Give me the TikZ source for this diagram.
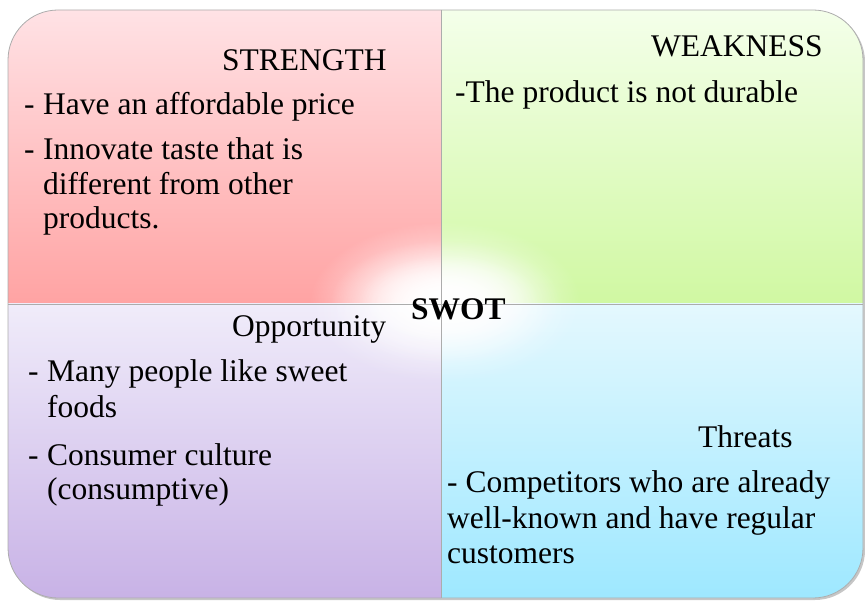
\documentclass[tikz,border=0pt]{standalone}
\usepackage{fontspec}
\setmainfont{Liberation Serif}
\usetikzlibrary{shadows,fadings}

\definecolor{strtop}{RGB}{255,226,229}
\definecolor{strbot}{RGB}{255,163,163}
\definecolor{weatop}{RGB}{244,255,234}
\definecolor{weabot}{RGB}{208,248,162}
\definecolor{opptop}{RGB}{240,236,250}
\definecolor{oppbot}{RGB}{200,178,230}
\definecolor{thrtop}{RGB}{228,248,254}
\definecolor{thrbot}{RGB}{158,232,255}

\tikzfading[name=glowfade, inner color=transparent!0, outer color=transparent!100]

\tikzset{
	txt/.style={anchor=base west, inner sep=0pt, font=\fontsize{31.5}{35}\selectfont},
	title/.style={txt, font=\fontsize{31.5}{35}\selectfont\bfseries},
	frame/.style={draw=gray!65, line width=0.8pt}
}

\begin{document}
\begin{tikzpicture}[x=1pt,y=-1pt]
	\useasboundingbox (0,0) rectangle (865,601);
	
	% board with its shadow
	\fill[white, rounded corners=50, drop shadow={opacity=0.45, shadow xshift=2pt, shadow yshift=-2pt}] (8,10) rectangle (863,598);
	
	% quadrants
	\begin{scope}
		\clip[rounded corners=50] (8,10) rectangle (863,598);
		\shade[top color=strtop, bottom color=strbot] (8,10) rectangle (441,304);
		\shade[top color=weatop, bottom color=weabot] (441,10) rectangle (863,304);
		\shade[top color=opptop, bottom color=oppbot] (8,304) rectangle (441,598);
		\shade[top color=thrtop, bottom color=thrbot] (441,304) rectangle (863,598);
		% white glow in the middle
		\fill[white, path fading=glowfade] (445,302) ellipse (135 and 80);
		\fill[white, path fading=glowfade] (445,302) ellipse (115 and 62);
		\fill[white, path fading=glowfade] (448,300) ellipse (90 and 45);
	\end{scope}
	\draw[frame, rounded corners=50] (8,10) rectangle (863,598);
	\draw[frame] (441,10) -- (441,598);
	\draw[frame] (8,304) -- (863,304);
	
	% strength
	\node[txt] (str) at (222,71) {STRENGTH};
	\node[txt] (s1) at (24,115) {-};
	\node[txt] (s1t) at (43,115) {Have an affordable price};
	\node[txt] (s2) at (24,160) {-};
	\node[txt] (s2t) at (43,160) {Innovate taste that is};
	\node[txt] (s2u) at (43,195) {different from other};
	\node[txt] (s2v) at (43,229) {products.};
	
	% weakness
	\node[txt] (wea) at (651,57) {WEAKNESS};
	\node[txt] (w1) at (455,103) {-The product is not durable};
	
	% opportunity
	\node[txt] (opp) at (232,337) {Opportunity};
	\node[txt] (o1) at (28,382) {-};
	\node[txt] (o1t) at (47,382) {Many people like sweet};
	\node[txt] (o1u) at (47,418) {foods};
	\node[txt] (o2) at (28,465) {-};
	\node[txt] (o2t) at (47,465) {Consumer culture};
	\node[txt] (o2u) at (47,499) {(consumptive)};
	
	% threats
	\node[txt] (thr) at (698,448) {Threats};
	\node[txt] (t1) at (447,493) {- Competitors who are already};
	\node[txt] (t1u) at (447,528) {well-known and have regular};
	\node[txt] (t1v) at (447,563) {customers};
	
	% centre
	\node[title] (swot) at (411,320) {SWOT};
\end{tikzpicture}
\end{document}
